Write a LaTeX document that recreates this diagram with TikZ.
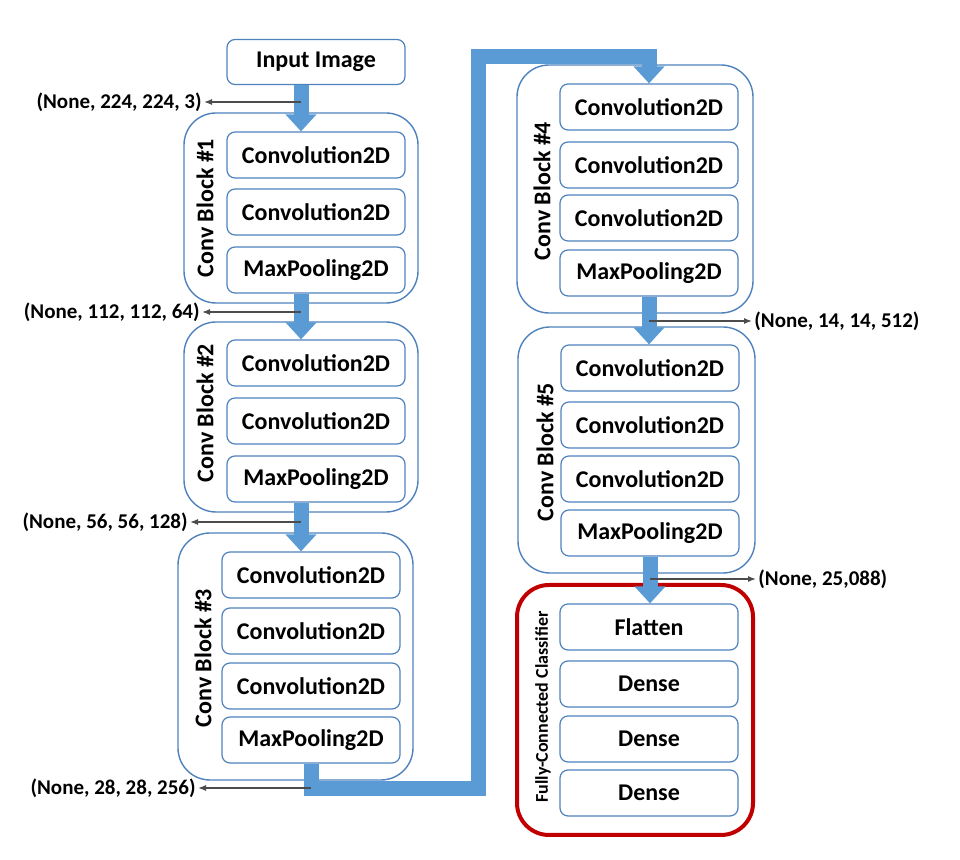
\documentclass[tikz,border=0pt]{standalone}
\usepackage{fontspec}
\setmainfont{Carlito}
\usepackage{xcolor}
\usepackage{tikz}
\usetikzlibrary{arrows.meta, positioning}
\definecolor{lineblue}{RGB}{79,129,189}
\definecolor{flowblue}{RGB}{91,155,213}
\definecolor{fcred}{RGB}{192,0,0}

\begin{document}
\begin{tikzpicture}[x=0.5pt, y=-0.5pt,
  layer/.style={draw=lineblue, line width=0.6pt, rounded corners=4pt, minimum width=89pt, minimum height=23pt, inner sep=0pt, font=\fontsize{12}{14}\selectfont\bfseries},
  block/.style={draw=lineblue, line width=0.7pt, rounded corners=16pt, inner sep=0pt},
  classifier/.style={draw=fcred, line width=2pt, rounded corners=16pt, inner sep=0pt},
  blocktitle/.style={rotate=90, inner sep=0pt, font=\fontsize{12}{14}\selectfont\bfseries},
  shapetag/.style={inner sep=1pt, font=\fontsize{10.5}{12}\selectfont\bfseries},
  flow/.style={draw=flowblue, line width=7.5pt, -{Triangle[width=15pt, length=8.5pt]}},
  shapeline/.style={draw=black!70, line width=0.6pt, -{Latex[length=4pt, width=3pt]}}
]
	\useasboundingbox (0,0) rectangle (960,860);

%------------- Input
	\node[layer, minimum height=22.5pt] (In) at (316,62) {Input Image};

%------------- Conv Block 1
	\node[block, minimum width=117pt, minimum height=95pt] (B1) at (301,208) {};
	\node[blocktitle] (B1_Title) at (205,208) {Conv Block \#1};
	\node[layer] (B1_Conv1) at (316,155) {Convolution2D};
	\node[layer] (B1_Conv2) at (316,212) {Convolution2D};
	\node[layer] (B1_Pool) at (316,270) {MaxPooling2D};

%------------- Conv Block 2
	\node[block, minimum width=117pt, minimum height=95pt] (B2) at (301,417) {};
	\node[blocktitle] (B2_Title) at (205,413) {Conv Block \#2};
	\node[layer] (B2_Conv1) at (316,363) {Convolution2D};
	\node[layer] (B2_Conv2) at (316,421) {Convolution2D};
	\node[layer] (B2_Pool) at (316,479) {MaxPooling2D};

%------------- Conv Block 3
	\node[block, minimum width=117.5pt, minimum height=123.5pt] (B3) at (295.5,656.5) {};
	\node[blocktitle] (B3_Title) at (203,658) {Conv Block \#3};
	\node[layer] (B3_Conv1) at (311,575) {Convolution2D};
	\node[layer] (B3_Conv2) at (311,631) {Convolution2D};
	\node[layer] (B3_Conv3) at (311,686) {Convolution2D};
	\node[layer] (B3_Pool) at (311,740) {MaxPooling2D};

%------------- Conv Block 4
	\node[block, minimum width=118pt, minimum height=124pt] (B4) at (635,189) {};
	\node[blocktitle] (B4_Title) at (542,191) {Conv Block \#4};
	\node[layer] (B4_Conv1) at (649,107) {Convolution2D};
	\node[layer] (B4_Conv2) at (649,165) {Convolution2D};
	\node[layer] (B4_Conv3) at (649,218) {Convolution2D};
	\node[layer] (B4_Pool) at (649,273) {MaxPooling2D};

%------------- Conv Block 5
	\node[block, minimum width=118.5pt, minimum height=123pt] (B5) at (636.5,450) {};
	\node[blocktitle] (B5_Title) at (545,452) {Conv Block \#5};
	\node[layer] (B5_Conv1) at (650,368) {Convolution2D};
	\node[layer] (B5_Conv2) at (650,425) {Convolution2D};
	\node[layer] (B5_Conv3) at (650,479) {Convolution2D};
	\node[layer] (B5_Pool) at (650,533) {MaxPooling2D};

%------------- Classifier
	\node[classifier, minimum width=118pt, minimum height=125pt] (FC) at (635,710) {};
	\node[blocktitle, font=\fontsize{9}{11}\selectfont\bfseries] (FC_Title) at (543,707) {Fully-Connected Classifier};
	\node[layer] (FC_Flatten) at (649,627) {Flatten};
	\node[layer] (FC_Dense1) at (649,684) {Dense};
	\node[layer] (FC_Dense2) at (649,739) {Dense};
	\node[layer] (FC_Dense3) at (649,793) {Dense};

%------------- Flow
	\draw[flow] (In.south -| B1.north) -- (B1.north |- B1_Conv1.north);
	\draw[flow] (B1_Pool.south -| B2.north) -- (B2.north |- B2_Conv1.north);
	\draw[flow] (B2_Pool.south -| B2.north) -- (B2.north |- B3_Conv1.north);

	\coordinate (Loop_Bottom) at (478,789);
	\coordinate (Loop_Top) at (478,57);
	\draw[flow] (B3_Pool.south) |- (Loop_Bottom) -- (Loop_Top) -| (B4_Conv1.north);

	\draw[flow] (B4_Pool.south) -- (B4_Pool.south |- B5_Conv1.north);
	\draw[flow] (B5_Pool.south) -- (B5_Pool.south |- FC_Flatten.north);

%------------- Output shapes
	\node[shapetag, anchor=east] (S1) at (204,102) {(None, 224, 224, 3)};
	\node[shapetag, anchor=east] (S2) at (202,312) {(None, 112, 112, 64)};
	\node[shapetag, anchor=east] (S3) at (190,522) {(None, 56, 56, 128)};
	\node[shapetag, anchor=east] (S4) at (198,788) {(None, 28, 28, 256)};
	\node[shapetag, anchor=west] (S5) at (752,321) {(None, 14, 14, 512)};
	\node[shapetag, anchor=west] (S6) at (756,579) {(None, 25,088)};

	\draw[shapeline] (S1.east -| B1.north) -- (S1.east);
	\draw[shapeline] (S2.east -| B2.north) -- (S2.east);
	\draw[shapeline] (S3.east -| B2.north) -- (S3.east);
	\draw[shapeline] (S4.east -| B3_Pool.south) -- (S4.east);
	\draw[shapeline] (S5.west -| B4_Pool.south) -- (S5.west);
	\draw[shapeline] (S6.west -| B5_Pool.south) -- (S6.west);

\end{tikzpicture}
\end{document}
